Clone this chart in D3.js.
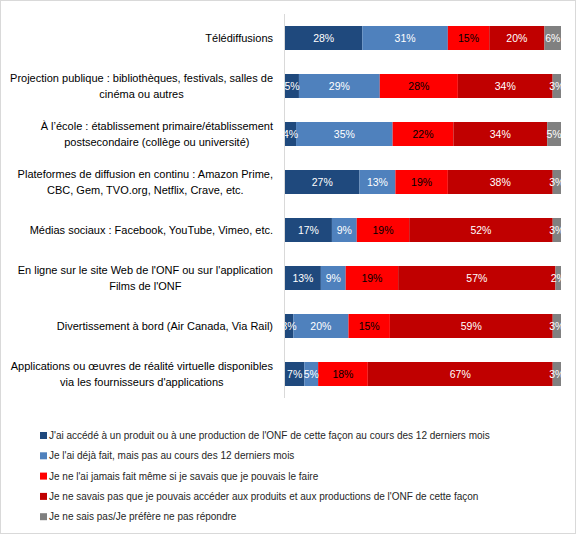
<!DOCTYPE html>
<html><head><meta charset="utf-8">
<script src="https://cdn.jsdelivr.net/npm/d3@7"></script>
<style>html,body{margin:0;padding:0;background:#fff;}svg{display:block;font-family:"Liberation Sans",Arial,sans-serif;}</style>
</head><body><svg id="c" width="576" height="534"></svg>
<script>
const categories = [
  "Télédiffusions",
  "Projection publique : bibliothèques, festivals, salles de\ncinéma ou autres",
  "À l’école : établissement primaire/établissement\npostsecondaire (collège ou université)",
  "Plateformes de diffusion en continu : Amazon Prime,\nCBC, Gem, TVO.org, Netflix, Crave, etc.",
  "Médias sociaux : Facebook, YouTube, Vimeo, etc.",
  "En ligne sur le site Web de l'ONF ou sur l'application\nFilms de l'ONF",
  "Divertissement à bord (Air Canada, Via Rail)",
  "Applications ou œuvres de réalité virtuelle disponibles\nvia les fournisseurs d'applications"
];
const seriesNames = [
  "J'ai accédé à un produit ou à une production de l'ONF de cette façon au cours des 12 derniers mois",
  "Je l'ai déjà fait, mais pas au cours des 12 derniers mois",
  "Je ne l'ai jamais fait même si je savais que je pouvais le faire",
  "Je ne savais pas que je pouvais accéder aux produits et aux productions de l'ONF de cette façon",
  "Je ne sais pas/Je préfère ne pas répondre"
];
const accessedRecent = [28, 5, 4, 27, 17, 13, 3, 7];
const accessedBefore = [31, 29, 35, 13, 9, 9, 20, 5];
const neverButKnew   = [15, 28, 22, 19, 19, 19, 15, 18];
const didNotKnow     = [20, 34, 34, 38, 52, 57, 59, 67];
const dontKnow       = [6, 3, 5, 3, 3, 2, 3, 3];
const colors = ["#1F497D", "#4F81BD", "#FF0000", "#C00000", "#808080"];
const labelColors = ["#fff", "#fff", "#000", "#fff", "#fff"];

const seriesVals = [accessedRecent, accessedBefore, neverButKnew, didNotKnow, dontKnow];
const keys = ["s0","s1","s2","s3","s4"];
const table = categories.map((c, i) => {
  const o = {cat: c};
  keys.forEach((k, j) => o[k] = seriesVals[j][i]);
  return o;
});

const svg = d3.select("#c");
svg.append("rect").attr("x",0.5).attr("y",0.5).attr("width",575).attr("height",533)
  .attr("fill","#fff").attr("stroke","#d9d9d9");

const x0 = 285, x1 = 561, yTop = 14, yBot = 398;
const x = d3.scaleLinear().domain([0,1]).range([x0, x1]);
const y = d3.scaleBand().domain(categories).range([yTop, yBot]).paddingInner(0.5).paddingOuter(0.25);

const stack = d3.stack().keys(keys).offset(d3.stackOffsetExpand);
const stacked = stack(table);

svg.append("defs").append("clipPath").attr("id","clip")
  .append("rect").attr("x", x0).attr("y", 0).attr("width", x1 - x0 + 1).attr("height", 534);

const g = svg.append("g");
stacked.forEach((layer, si) => {
  const lg = g.append("g");
  lg.selectAll("rect").data(layer).join("rect")
    .attr("x", d => x(d[0]))
    .attr("y", d => y(d.data.cat))
    .attr("width", d => x(d[1]) - x(d[0]))
    .attr("height", y.bandwidth())
    .attr("fill", colors[si]);
});
const lbl = svg.append("g").attr("clip-path","url(#clip)");
stacked.forEach((layer, si) => {
  lbl.selectAll(null).data(layer).join("text")
    .attr("x", d => (x(d[0]) + x(d[1])) / 2)
    .attr("y", d => y(d.data.cat) + y.bandwidth() / 2)
    .attr("dy", "0.35em")
    .attr("text-anchor", "middle")
    .attr("font-size", "10.5px")
    .attr("fill", labelColors[si])
    .text(d => seriesVals[si][categories.indexOf(d.data.cat)] + "%");
});

// axis line
svg.append("line").attr("x1", x0 - 0.5).attr("x2", x0 - 0.5).attr("y1", yTop).attr("y2", yBot)
  .attr("stroke", "#d9d9d9");

// category labels
const yAxis = svg.append("g");
categories.forEach(c => {
  const lines = c.split("\n");
  const cy = y(c) + y.bandwidth() / 2;
  const lh = 16;
  const t = yAxis.append("text").attr("text-anchor","middle").attr("font-size","11px").attr("fill","#000");
  lines.forEach((ln, i) => {
    t.append("tspan").attr("x", 0).attr("y", cy + (i - (lines.length - 1) / 2) * lh).attr("dy","0.35em").text(ln);
  });
  const w = d3.max(t.selectAll("tspan").nodes(), n => n.getComputedTextLength());
  t.selectAll("tspan").attr("x", 273 - w / 2);
});

// legend
const leg = svg.append("g");
seriesNames.forEach((s, i) => {
  const cy = 435.5 + i * 20.3;
  leg.append("rect").attr("x", 40).attr("y", cy - 3.5).attr("width", 7).attr("height", 7).attr("fill", colors[i]);
  leg.append("text").attr("x", 49).attr("y", cy).attr("dy", "0.35em").attr("font-size", "10px")
    .attr("fill", "#262626").text(s);
});
</script></body></html>
